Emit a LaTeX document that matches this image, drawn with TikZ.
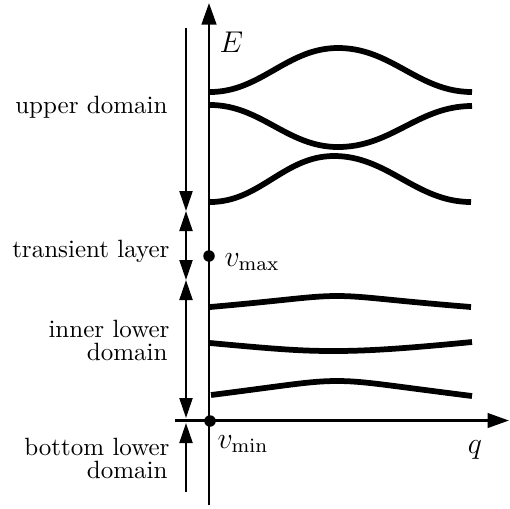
\documentclass[tikz,border=0pt]{standalone}
\usetikzlibrary{arrows.meta}
\begin{document}
\begin{tikzpicture}[x=0.4pt,y=-0.4pt,
  >={Triangle[length=8pt,width=5.2pt]},
  axis/.style={line width=1.1pt,-{Triangle[length=8.6pt,width=5.8pt]}},
  band/.style={line width=2.3pt},
  span/.style={line width=0.85pt},
  lbl/.style={inner sep=0pt,anchor=base east},
  mlbl/.style={inner sep=0pt,anchor=base west,font=\large},
  dot/.style={circle,fill=black,inner sep=0pt,minimum size=4.6pt}]
\useasboundingbox (0,0) rectangle (510,508);
% axes
\coordinate (ybot) at (209,505);
\coordinate (ytop) at (209,3);
\coordinate (xl) at (175,420.5);
\coordinate (xr) at (509,420.5);
\draw[axis] (ybot) -- (ytop);
\draw[axis] (xl) -- (xr);
% bands
\draw[band] (210,92) .. controls (261,92) and (287,48) .. (338,48) .. controls (392,48) and (418,92) .. (472,92);
\draw[band] (210,105) .. controls (261,105) and (287,147) .. (338,147) .. controls (392,147) and (418,106) .. (472,106);
\draw[band] (210,202) .. controls (260,202) and (284,156) .. (334,156) .. controls (388,156) and (416,202) .. (471,202);
\draw[band] (210,307) .. controls (290,300) and (310,296) .. (337,296) .. controls (364,296) and (384,300) .. (471,307);
\draw[band] (210,343) .. controls (275,349) and (300,351) .. (333,351) .. controls (366,351) and (400,349) .. (472,342);
\draw[band] (211,395) .. controls (290,385) and (310,381) .. (337,381) .. controls (364,381) and (384,385) .. (472,396);
% dots
\node[dot] (vmax) at (209,256) {};
\node[dot] (vmin) at (210,421) {};
% domain spans
\coordinate (s0) at (186,28);
\coordinate (s1) at (186,211);
\coordinate (s2) at (186,280);
\coordinate (s3a) at (186,418);
\coordinate (s3b) at (186,423);
\coordinate (s4) at (186,492);
\draw[span,->] (s0) -- (s1);
\draw[span,<->] (s1) -- (s2);
\draw[span,<->] (s2) -- (s3a);
\draw[span,->] (s4) -- (s3b);
% labels
\node[lbl] (up) at (168,113) {upper domain};
\node[lbl] (tr) at (170,257) {transient layer};
\node[lbl] (in1) at (170,337) {inner lower};
\node[lbl] (in2) at (168,360) {domain};
\node[lbl] (bo1) at (170,455) {bottom lower};
\node[lbl] (bo2) at (168,478) {domain};
\node[mlbl] (E) at (219,52) {$E$};
\node[mlbl] (vmaxl) at (224,266) {$v_{\max}$};
\node[mlbl] (vminl) at (217,448) {$v_{\min}$};
\node[inner sep=0pt,anchor=base,font=\large] (q) at (475,453) {$q$};
\end{tikzpicture}
\end{document}
